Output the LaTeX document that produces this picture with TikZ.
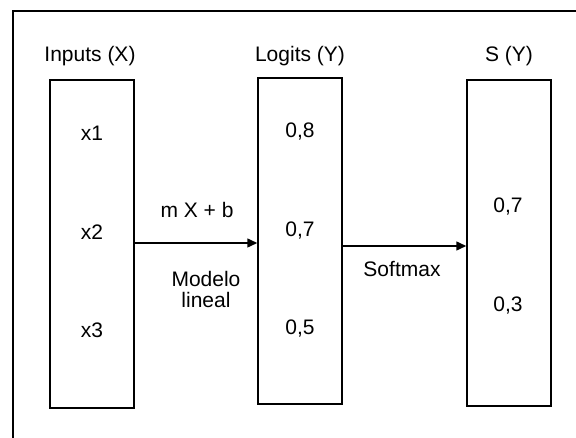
\documentclass[tikz,border=0pt]{standalone}
\usepackage{fontspec}
\setmainfont{Liberation Sans}
\usetikzlibrary{arrows.meta}
\begin{document}
\begin{tikzpicture}[x=1pt,y=-1pt,
  every node/.style={font=\fontsize{21}{25}\selectfont, inner sep=0pt},
  col/.style={draw, line width=1.5pt, minimum width=84pt, minimum height=326pt},
  lbl/.style={anchor=base},
  arr/.style={line width=1.5pt, -{Triangle[length=10pt,width=9pt]}}]
\useasboundingbox (0,0) rectangle (576,438);
% outer frame (only its top and left sides fall inside the page)
\draw[line width=1.5pt] (13,438) -- (13,11) -- (576,11);

% columns
\node[col, minimum height=328pt] (inp) at (92,244) {};
\node[col] (log) at (300,241) {};
\node[col] (sm) at (509,243) {};

% column titles
\node[lbl] (tinp) at (90,62) {Inputs (X)};
\node[lbl] (tlog) at (300,62) {Logits (Y)};
\node[lbl] (tsm) at (509,62) {S (Y)};

% column entries
\node[lbl] (x1) at (92,141) {x1};
\node[lbl] (x2) at (92,240) {x2};
\node[lbl] (x3) at (92,338) {x3};
\node[lbl] (l1) at (300,138) {0,8};
\node[lbl] (l2) at (300,237) {0,7};
\node[lbl] (l3) at (300,335) {0,5};
\node[lbl] (s1) at (508,213) {0,7};
\node[lbl] (s2) at (508,312) {0,3};

% connectors
\draw[arr] ([yshift=1pt]inp.east) -- ([yshift=1pt]inp.east -| log.west);
\draw[arr] ([yshift=-5pt]log.east) -- ([yshift=-5pt]log.east -| sm.west);

% connector labels
\node[lbl] (eq) at (197,218) {m X + b};
\node[lbl] (mod) at (206,287) {Modelo};
\node[lbl] (lin) at (206,308) {lineal};
\node[lbl] (soft) at (402,277) {Softmax};
\end{tikzpicture}
\end{document}
